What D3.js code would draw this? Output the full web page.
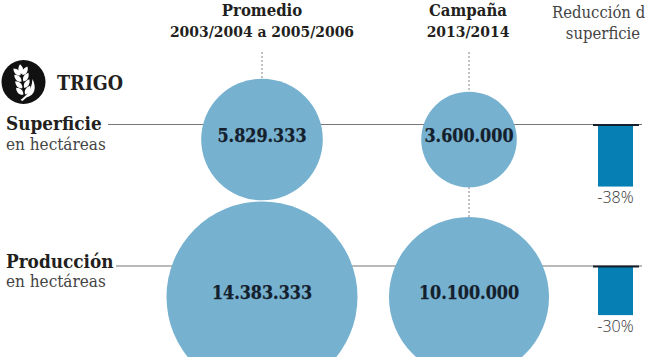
<!DOCTYPE html>
<html>
<head>
<meta charset="utf-8">
<script src="https://cdn.jsdelivr.net/npm/d3@7"></script>
<style>
html, body { margin: 0; padding: 0; background: #fff; }
svg { display: block; }
text { font-family: "DejaVu Serif Condensed", "DejaVu Serif", serif; fill: #231f20; }
.head { font-weight: bold; font-size: 15.5px; }
.head1 { font-weight: bold; font-size: 16.6px; }
.sub { font-size: 16.5px; fill: #444; }
.rowname { font-weight: bold; font-size: 18.8px; }
.unit { font-size: 17px; fill: #444; }
.val { font-weight: bold; font-size: 17.8px; fill: #14202c; stroke: #14202c; stroke-width: 0.25px; }
.pct { font-family: "Open Sans", sans-serif; font-weight: 300; font-size: 16px; fill: #333; }
</style>
</head>
<body>
<svg width="645" height="357"></svg>
<script>
var rows = ['Superficie', 'Producción'];
var units = ['en hectáreas', 'en hectáreas'];
var promedio = [5829333, 14383333];
var campana = [3600000, 10100000];
var reduccion = [38, 30];
var valueLabels = [['5.829.333', '3.600.000'], ['14.383.333', '10.100.000']];

var svg = d3.select('svg');

var colX = d3.scalePoint().domain(['promedio', 'campana']).range([262, 469]);
var rowY = d3.scalePoint().domain(rows).range([124.5, 266]);
var rScale = d3.scaleSqrt().domain([0, 14383333]).range([0, 95.5]);
var barH = d3.scaleLinear().domain([0, 100]).range([0, 162]);

var circleDrop = [15, 31];
var lineStart = [108, 116];
var nameY = [130, 268];
var unitY = [150, 287];

function headText(x, y, cls, t) {
    svg.append('text').attr('class', cls).attr('x', x).attr('y', y)
        .attr('text-anchor', 'middle').text(t);
}
headText(262, 15.5, 'head1', 'Promedio');
headText(262, 37, 'head', '2003/2004 a 2005/2006');
headText(468, 15.5, 'head1', 'Campaña');
headText(468, 37, 'head', '2013/2014');
headText(603, 18, 'sub', 'Reducción de');
headText(603, 39, 'sub', 'superficie');

// dotted guides
[[262, 52, 80], [469, 52, 93], [469, 187, 218]].forEach(function(g) {
    svg.append('line').attr('x1', g[0]).attr('x2', g[0]).attr('y1', g[1]).attr('y2', g[2])
        .attr('stroke', '#666').attr('stroke-width', 0.8).attr('stroke-dasharray', '2,2');
});

// baselines
rows.forEach(function(r, i) {
    svg.append('line').attr('x1', lineStart[i]).attr('x2', 642)
        .attr('y1', rowY(r)).attr('y2', rowY(r))
        .attr('stroke', '#777').attr('stroke-width', 1.2);
});

// circles
rows.forEach(function(r, i) {
    [['promedio', promedio[i]], ['campana', campana[i]]].forEach(function(d, j) {
        var cy = rowY(r) + circleDrop[i];
        svg.append('circle').attr('cx', colX(d[0])).attr('cy', cy)
            .attr('r', rScale(d[1])).attr('fill', '#76b1d0');
        svg.append('text').attr('class', 'val').attr('x', colX(d[0])).attr('y', cy + 2)
            .attr('text-anchor', 'middle').text(valueLabels[i][j]);
    });
});

// reduction bars
rows.forEach(function(r, i) {
    var y0 = rowY(r) + 0.5;
    svg.append('rect').attr('x', 598).attr('y', y0).attr('width', 35)
        .attr('height', barH(reduccion[i])).attr('fill', '#0680b4');
    svg.append('line').attr('x1', 593).attr('x2', 639).attr('y1', y0).attr('y2', y0)
        .attr('stroke', '#14202c').attr('stroke-width', 2);
    svg.append('text').attr('class', 'pct').attr('x', 615.5)
        .attr('y', y0 + barH(reduccion[i]) + 16.5)
        .attr('text-anchor', 'middle').text('-' + reduccion[i] + '%');
});

// row labels
rows.forEach(function(r, i) {
    svg.append('text').attr('class', 'rowname').attr('x', 6).attr('y', nameY[i]).text(r);
    svg.append('text').attr('class', 'unit').attr('x', 6).attr('y', unitY[i]).text(units[i]);
});

// wheat icon
var icon = svg.append('g').attr('transform', 'translate(23.5,82)');
icon.append('circle').attr('r', 22).attr('fill', '#111');
var kernel = 'M0,0 C-3.2,-2.5 -3.2,-6.5 0,-10 C3.2,-6.5 3.2,-2.5 0,0 Z';
var ear = icon.append('g').attr('transform', 'rotate(-8)');
ear.append('path').attr('d', kernel).attr('transform', 'translate(-1,-8)').attr('fill', '#fff');
[-7, -0.5, 6, 12.5].forEach(function(y) {
    ear.append('path').attr('d', kernel).attr('transform', 'translate(-2,' + y + ') rotate(-38)').attr('fill', '#fff');
    ear.append('path').attr('d', kernel).attr('transform', 'translate(0,' + y + ') rotate(38)').attr('fill', '#fff');
});
icon.append('path').attr('d', 'M-3,18 C2,14 8,10 9,-3 C13,5 12,13 3,15.5 L-1,19 Z').attr('fill', '#fff');
svg.append('text').attr('x', 57).attr('y', 90).attr('font-weight', 'bold')
    .attr('font-size', 19.5).text('TRIGO');
</script>
</body>
</html>
